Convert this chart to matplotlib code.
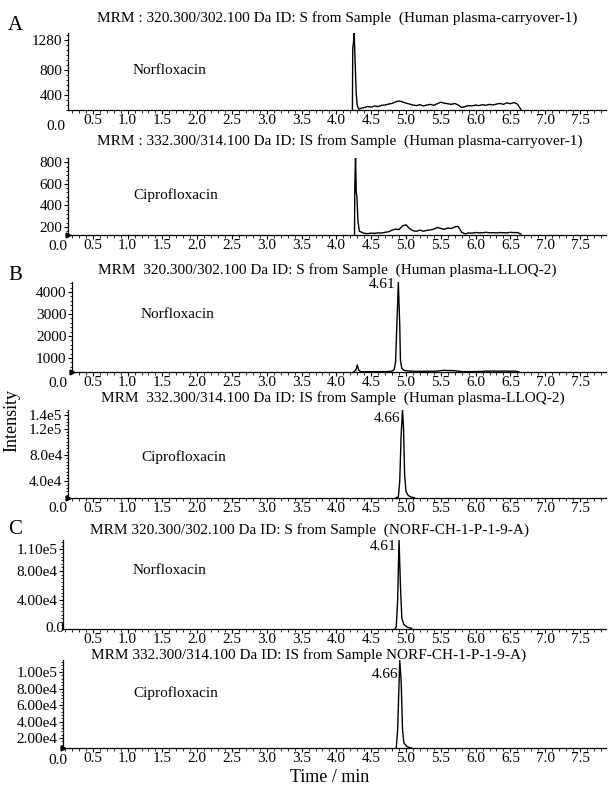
import matplotlib
matplotlib.use('Agg')
import matplotlib.pyplot as plt
from matplotlib.ticker import MultipleLocator, FixedLocator

plt.rcParams['font.family'] = ['Liberation Serif', 'DejaVu Serif']
plt.rcParams['font.size'] = 11

# ---- data ----
# A: carryover, norfloxacin
a1_t = [4.23, 4.235, 4.245, 4.255, 4.27, 4.285, 4.30, 4.32, 4.36,
        4.40, 4.45, 4.50, 4.55, 4.60, 4.65, 4.70, 4.75, 4.80, 4.85, 4.90, 4.95,
        5.00, 5.05, 5.10, 5.15, 5.20, 5.25, 5.30, 5.35, 5.40, 5.45, 5.50, 5.55,
        5.60, 5.65, 5.70, 5.75, 5.80, 5.85, 5.90, 5.95, 6.00, 6.05, 6.10, 6.15,
        6.20, 6.25, 6.30, 6.35, 6.40, 6.45, 6.50, 6.55, 6.60, 6.65]
a1_y = [165, 1150, 1230, 1392, 900, 420, 230, 175, 190,
        200, 215, 205, 225, 215, 235, 240, 255, 265, 290, 305, 290,
        270, 255, 240, 230, 245, 225, 240, 250, 235, 260, 285, 270,
        260, 250, 265, 240, 200, 215, 230, 225, 240, 230, 245, 235,
        250, 240, 255, 265, 250, 275, 260, 280, 255, 170]

# A: carryover, ciprofloxacin
a2_t = [4.26, 4.265, 4.275, 4.285, 4.295, 4.31, 4.33,
        4.40, 4.45, 4.50, 4.55, 4.60, 4.65, 4.70, 4.75, 4.80, 4.85, 4.90, 4.95,
        5.00, 5.05, 5.10, 5.15, 5.20, 5.25, 5.30, 5.35, 5.40, 5.45, 5.50, 5.55,
        5.60, 5.65, 5.70, 5.75, 5.80, 5.85, 5.90, 5.95, 6.00, 6.05, 6.10, 6.15,
        6.20, 6.25, 6.30, 6.35, 6.40, 6.45, 6.50, 6.55, 6.60, 6.65]
a2_y = [130, 600, 840, 520, 480, 250, 160,
        140, 138, 142, 140, 145, 143, 150, 155, 170, 180, 175, 210,
        220, 185, 165, 160, 170, 160, 168, 172, 180, 195, 185, 178,
        190, 185, 200, 205, 150, 135, 145, 142, 148, 145, 146, 150,
        145, 147, 144, 148, 146, 145, 150, 147, 148, 135]

# B: LLOQ, norfloxacin
b1_t = [4.25, 4.28, 4.30, 4.32, 4.35, 4.40, 4.45, 4.50, 4.55, 4.60, 4.65,
        4.70, 4.75, 4.80, 4.83, 4.85, 4.87, 4.89, 4.91, 4.92, 4.94, 4.97,
        5.00, 5.05, 5.10, 5.15, 5.20, 5.25, 5.30, 5.35, 5.40, 5.45, 5.50,
        5.55, 5.60, 5.65, 5.70, 5.75, 5.80, 5.90, 6.00, 6.10, 6.15, 6.20,
        6.25, 6.30, 6.35, 6.40, 6.45, 6.50, 6.55, 6.58, 6.62]
b1_y = [370, 450, 680, 450, 375, 370, 380, 372, 378, 375, 380,
        378, 385, 400, 470, 800, 2600, 4440, 2500, 900, 520, 440,
        420, 400, 395, 390, 392, 390, 395, 393, 398, 400, 420,
        440, 425, 430, 415, 400, 380, 375, 380, 390, 400, 395,
        405, 400, 398, 405, 400, 395, 400, 390, 372]

# B: LLOQ, ciprofloxacin
b2_t = [4.86, 4.89, 4.91, 4.93, 4.95, 4.965, 4.98, 5.00, 5.03, 5.07, 5.12]
b2_y = [15500, 16500, 40000, 110000, 148000, 120000, 50000, 25000, 19000,
        16500, 15500]

# C: sample, norfloxacin
c1_t = [4.84, 4.86, 4.88, 4.90, 4.92, 4.94, 4.97, 5.02, 5.08]
c1_y = [0, 3000, 40000, 123000, 60000, 15000, 6000, 2500, 800]

# C: sample, ciprofloxacin
c2_t = [4.86, 4.88, 4.91, 4.93, 4.95, 4.97, 5.01, 5.05, 5.08]
c2_y = [8000, 30000, 114000, 90000, 30000, 14000, 10000, 8500, 8000]

x_major = [0.5, 1.0, 1.5, 2.0, 2.5, 3.0, 3.5, 4.0, 4.5, 5.0, 5.5, 6.0, 6.5, 7.0, 7.5]
x_labels = ['0.5', '1.0', '1.5', '2.0', '2.5', '3.0', '3.5', '4.0', '4.5',
            '5.0', '5.5', '6.0', '6.5', '7.0', '7.5']

titles = [
    'MRM : 320.300/302.100 Da ID: S from Sample  (Human plasma-carryover-1)',
    'MRM : 332.300/314.100 Da ID: IS from Sample  (Human plasma-carryover-1)',
    'MRM  320.300/302.100 Da ID: S from Sample  (Human plasma-LLOQ-2)',
    'MRM  332.300/314.100 Da ID: IS from Sample  (Human plasma-LLOQ-2)',
    'MRM 320.300/302.100 Da ID: S from Sample  (NORF-CH-1-P-1-9-A)',
    'MRM 332.300/314.100 Da ID: IS from Sample NORF-CH-1-P-1-9-A)',
]
compounds = ['Norfloxacin', 'Ciprofloxacin'] * 3

W, H = 609, 789
fig = plt.figure(figsize=(W / 100, H / 100), dpi=100)
X0, PXU = 58, 69.6   # pixel of t=0 and pixels per minute


def ftext(x, y, s, **kw):
    fig.text(x / W, 1 - y / H, s, **kw)


def panel(left, top, bottom, t, y, ylim, yt, ytl, yminor, title, title_xy,
          comp, comp_xy, zero_xy, arrow=False, peak=None):
    right = 606
    ax = fig.add_axes([left / W, 1 - bottom / H, (right - left) / W, (bottom - top) / H])
    ax.plot(t, y, color='k', lw=1.0)
    ax.set_xlim((left - X0) / PXU, (right - X0) / PXU)
    ax.set_ylim(*ylim)
    for s in ['top', 'right']:
        ax.spines[s].set_visible(False)
    for s in ['left', 'bottom']:
        ax.spines[s].set_linewidth(0.9)
    ax.xaxis.set_major_locator(FixedLocator(x_major))
    ax.set_xticklabels(x_labels)
    ax.xaxis.set_minor_locator(MultipleLocator(0.1))
    ax.yaxis.set_major_locator(FixedLocator(yt))
    ax.set_yticklabels(ytl)
    ax.yaxis.set_minor_locator(MultipleLocator(yminor))
    ax.tick_params(which='major', length=3, width=0.8, pad=1.0, labelsize=11)
    ax.tick_params(axis='x', which='major', pad=0.0)
    ax.tick_params(which='minor', length=1.8, width=0.6)
    if arrow:
        ax.plot([ax.get_xlim()[0]], [ylim[0]], marker='>', ms=3.5, color='k',
                clip_on=False)
    ftext(title_xy[0], title_xy[1], title, ha='left', va='center', fontsize=11)
    ftext(comp_xy[0], comp_xy[1], comp, ha='left', va='center', fontsize=11)
    ftext(zero_xy[0], zero_xy[1], '0.0', ha='center', va='center', fontsize=11)
    if peak:
        ftext(peak[0], peak[1], peak[2], ha='right', va='center', fontsize=11)
    return ax


panel(68, 33, 110, a1_t, a1_y, (160, 1392), [400, 800, 1280], ['400', '800', '1280'], 80,
      titles[0], (97, 18), compounds[0], (133, 70), (56, 127))
panel(68, 158, 235, a2_t, a2_y, (125, 840), [200, 400, 600, 800],
      ['200', '400', '600', '800'], 40,
      titles[1], (97, 141), compounds[1], (133, 195), (58, 247), arrow=True)
panel(72, 282, 372, b1_t, b1_y, (360, 4450), [1000, 2000, 3000, 4000],
      ['1000', '2000', '3000', '4000'], 200,
      titles[2], (98, 270), compounds[2], (141, 315), (58, 384), arrow=True,
      peak=(395, 285, '4.61'))
panel(68, 410, 498, b2_t, b2_y, (15000, 148000), [40000, 80000, 120000, 140000],
      ['4.0e4', '8.0e4', '1.2e5', '1.4e5'], 5000,
      titles[3], (101, 398), compounds[3], (141, 457), (58, 508), arrow=True,
      peak=(400, 418, '4.66'))
panel(63, 540, 629, c1_t, c1_y, (0, 123000), [40000, 80000, 110000],
      ['4.00e4', '8.00e4', '1.10e5'], 5000,
      titles[4], (90, 530), compounds[4], (133, 570), (55, 628),
      peak=(396, 546, '4.61'))
panel(63, 660, 748, c2_t, c2_y, (8000, 114500), [20000, 40000, 60000, 80000, 100000],
      ['2.00e4', '4.00e4', '6.00e4', '8.00e4', '1.00e5'], 4000,
      titles[5], (91, 655), compounds[5], (133, 693), (58, 760), arrow=True,
      peak=(398, 675, '4.66'))

ftext(15, 25, 'A', ha='center', va='center', fontsize=15)
ftext(15, 275, 'B', ha='center', va='center', fontsize=15)
ftext(15, 530, 'C', ha='center', va='center', fontsize=15)
ftext(12, 420, 'Intensity', ha='center', va='center', rotation=90, fontsize=13)
ftext(330, 777, 'Time / min', ha='center', va='center', fontsize=13)

fig.savefig('out.png', dpi=100)
